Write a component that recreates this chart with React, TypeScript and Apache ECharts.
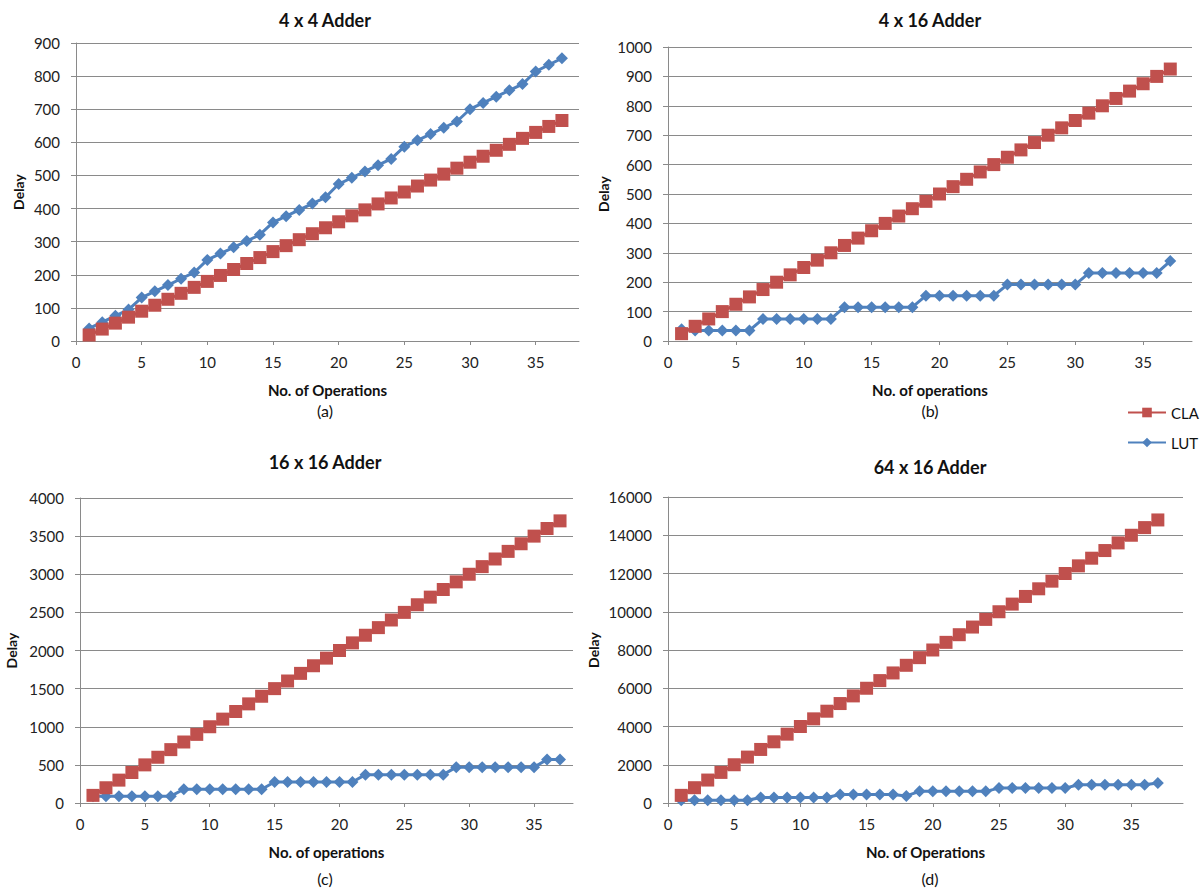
import React, { useEffect, useRef } from "react";
import * as echarts from "echarts";

// ---------- data ----------
const ops = [1, 2, 3, 4, 5, 6, 7, 8, 9, 10, 11, 12, 13, 14, 15, 16, 17, 18, 19, 20, 21, 22, 23, 24, 25, 26, 27, 28, 29, 30, 31, 32, 33, 34, 35, 36, 37];

const xTickLabels = [0, 5, 10, 15, 20, 25, 30, 35];

const cla4x4 = [18, 36, 54, 72, 90, 108, 126, 144, 162, 180, 198, 216, 234, 252, 270, 288, 306, 324, 342, 360, 378, 396, 414, 432, 450, 468, 486, 504, 522, 540, 558, 576, 594, 612, 630, 648, 666];
const lut4x4 = [38, 57, 76, 95, 131, 150, 169, 188, 207, 245, 264, 283, 302, 321, 358, 377, 396, 415, 434, 474, 493, 512, 531, 550, 587, 606, 625, 644, 663, 700, 719, 738, 757, 776, 814, 834, 854];

const cla4x16 = [25, 50, 75, 100, 125, 150, 175, 200, 225, 250, 275, 300, 325, 350, 375, 400, 425, 450, 475, 500, 525, 550, 575, 600, 625, 650, 675, 700, 725, 750, 775, 800, 825, 850, 875, 900, 925];
const lut4x16 = [40, 36, 36, 36, 36, 36, 75, 75, 75, 75, 75, 75, 115, 115, 115, 115, 115, 115, 154, 154, 154, 154, 154, 154, 192, 192, 192, 192, 192, 192, 231, 231, 231, 231, 231, 231, 272];

const cla16x16 = [100, 200, 300, 400, 500, 600, 700, 800, 900, 1000, 1100, 1200, 1300, 1400, 1500, 1600, 1700, 1800, 1900, 2000, 2100, 2200, 2300, 2400, 2500, 2600, 2700, 2800, 2900, 3000, 3100, 3200, 3300, 3400, 3500, 3600, 3700];
const lut16x16 = [90, 90, 90, 90, 90, 90, 90, 180, 180, 180, 180, 180, 180, 180, 275, 275, 275, 275, 275, 275, 275, 372, 372, 372, 372, 372, 372, 372, 470, 470, 470, 470, 470, 470, 470, 570, 570];

const cla64x16 = [400, 800, 1200, 1600, 2000, 2400, 2800, 3200, 3600, 4000, 4400, 4800, 5200, 5600, 6000, 6400, 6800, 7200, 7600, 8000, 8400, 8800, 9200, 9600, 10000, 10400, 10800, 11200, 11600, 12000, 12400, 12800, 13200, 13600, 14000, 14400, 14800];
const lut64x16 = [150, 140, 140, 140, 140, 140, 290, 290, 290, 290, 290, 290, 440, 440, 440, 440, 440, 370, 610, 610, 610, 610, 610, 610, 780, 780, 780, 780, 780, 780, 950, 950, 950, 950, 950, 950, 1040];

const titles = ["4 x 4 Adder", "4 x 16 Adder", "16 x 16 Adder", "64 x 16 Adder"];
const xNames = ["No. of Operations", "No. of operations", "No. of operations", "No. of Operations"];
const subLabels = ["(a)", "(b)", "(c)", "(d)"];
const yMaxes = [900, 1000, 4000, 16000];
const yIntervals = [100, 100, 500, 2000];

// ---------- layout ----------
const FONT = "Lato, 'Open Sans', sans-serif";
const RED = "#C0504D";
const BLUE = "#4F81BD";
const GRID_COLOR = "#8a8a8a";

const panels = [
  { grid: { left: 76, top: 43, width: 503, height: 298 }, xMax: 38.3, yGap: 51, titleY: 20, subY: 410, cx: 325 },
  { grid: { left: 668, top: 47, width: 524, height: 294 }, xMax: 38.6, yGap: 58, titleY: 20, subY: 410, cx: 930 },
  { grid: { left: 80, top: 498, width: 493, height: 305 }, xMax: 38.0, yGap: 62, titleY: 462, subY: 878, cx: 325 },
  { grid: { left: 668, top: 497, width: 515, height: 306 }, xMax: 38.9, yGap: 68, titleY: 467, subY: 878, cx: 930 },
];

const claSets = [cla4x4, cla4x16, cla16x16, cla64x16];
const lutSets = [lut4x4, lut4x16, lut16x16, lut64x16];

function pairs(vals: number[]) {
  return ops.map((x, i) => [x, vals[i]]);
}

export default function App() {
  const ref = useRef<HTMLDivElement>(null);

  useEffect(() => {
    document.body.style.margin = "0";
    if (!ref.current) return;
    const chart = echarts.init(ref.current, undefined, { renderer: "svg" });

    const grids = panels.map((p) => ({ ...p.grid }));

    const xAxes = panels.map((p, i) => ({
      type: "value",
      gridIndex: i,
      min: 0,
      max: p.xMax,
      interval: 5,
      name: xNames[i],
      nameLocation: "middle",
      nameGap: 41,
      nameTextStyle: { fontFamily: FONT, fontWeight: "bold", fontSize: 15, color: "#111" },
      axisLine: { show: true, onZero: false, lineStyle: { color: GRID_COLOR, width: 1 } },
      axisTick: { show: true, length: 4, customValues: xTickLabels, lineStyle: { color: GRID_COLOR } },
      axisLabel: { customValues: xTickLabels, margin: 13, fontFamily: FONT, fontSize: 15, color: "#222" },
      splitLine: { show: false },
    }));

    const yAxes = panels.map((p, i) => ({
      type: "value",
      gridIndex: i,
      min: 0,
      max: yMaxes[i],
      interval: yIntervals[i],
      name: "Delay",
      nameLocation: "middle",
      nameRotate: 90,
      nameGap: p.yGap,
      nameTextStyle: { fontFamily: FONT, fontWeight: "bold", fontSize: 14, color: "#111" },
      axisLine: { show: true, lineStyle: { color: GRID_COLOR, width: 1 } },
      axisTick: { show: true, length: 5, lineStyle: { color: GRID_COLOR } },
      axisLabel: { margin: 16, fontFamily: FONT, fontSize: 15, color: "#222", formatter: (v: number) => String(v) },
      splitLine: { show: true, lineStyle: { color: GRID_COLOR, width: 1 } },
    }));

    const series: any[] = [];
    panels.forEach((_, i) => {
      series.push({
        name: "LUT",
        type: "line",
        xAxisIndex: i,
        yAxisIndex: i,
        data: pairs(lutSets[i]),
        symbol: "diamond",
        symbolSize: 12,
        lineStyle: { color: BLUE, width: 3 },
        itemStyle: { color: BLUE },
        z: 2,
      });
      series.push({
        name: "CLA",
        type: "line",
        xAxisIndex: i,
        yAxisIndex: i,
        data: pairs(claSets[i]),
        symbol: "rect",
        symbolSize: 13,
        lineStyle: { color: RED, width: 3 },
        itemStyle: { color: RED },
        z: 3,
      });
    });

    const graphics: any[] = [];
    panels.forEach((p, i) => {
      graphics.push({
        type: "text",
        x: p.cx,
        y: p.titleY,
        style: {
          text: titles[i],
          fontFamily: FONT,
          fontWeight: "bold",
          fontSize: 18,
          fill: "#111",
          textAlign: "center",
          textVerticalAlign: "middle",
        },
      });
      graphics.push({
        type: "text",
        x: p.cx,
        y: p.subY,
        style: {
          text: subLabels[i],
          fontFamily: FONT,
          fontSize: 16,
          fill: "#111",
          textAlign: "center",
          textVerticalAlign: "middle",
        },
      });
    });

    chart.setOption({
      animation: false,
      backgroundColor: "#ffffff",
      grid: grids,
      xAxis: xAxes,
      yAxis: yAxes,
      series,
      legend: {
        data: ["CLA", "LUT"],
        orient: "vertical",
        left: 1122,
        top: 400,
        itemWidth: 38,
        itemHeight: 12,
        itemGap: 15,
        textStyle: { fontFamily: FONT, fontSize: 15, color: "#111" },
      },
      graphic: graphics,
    });

    return () => chart.dispose();
  }, []);

  return <div ref={ref} style={{ width: 1200, height: 890 }} />;
}
